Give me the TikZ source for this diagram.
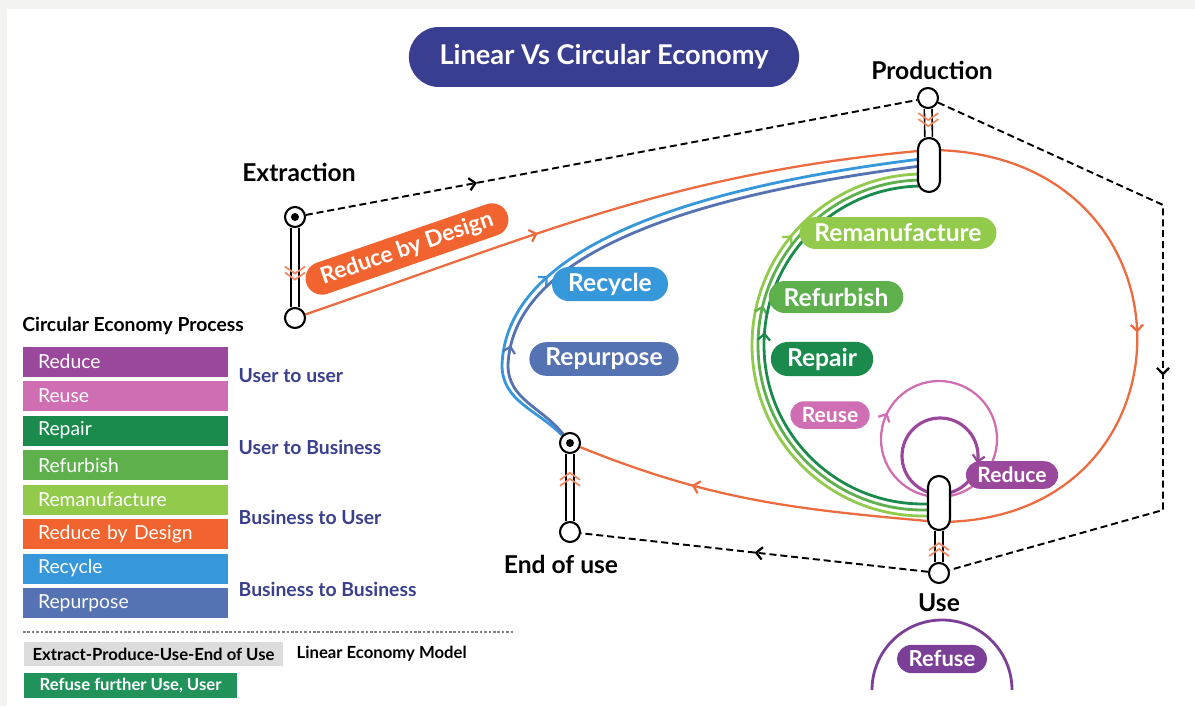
\documentclass[tikz,border=0pt]{standalone}
\usepackage{fontspec}
\setmainfont{Lato}
\usetikzlibrary{positioning,shapes.misc,arrows.meta,decorations.markings,backgrounds,calc}

\definecolor{frame}{HTML}{F3F3F1}
\definecolor{titleblue}{HTML}{3A3E91}
\definecolor{grouptext}{HTML}{3A3F8E}
\definecolor{reducec}{HTML}{9A489B}
\definecolor{reusec}{HTML}{CF6EB2}
\definecolor{repairc}{HTML}{1B8B4D}
\definecolor{refurbc}{HTML}{5DB04B}
\definecolor{remanc}{HTML}{92CA4B}
\definecolor{designc}{HTML}{F1642F}
\definecolor{recyclec}{HTML}{3797DB}
\definecolor{repurpc}{HTML}{5572B3}
\definecolor{refusec}{HTML}{7C3F98}
\definecolor{linegray}{HTML}{DCDCDC}
\definecolor{refuseuser}{HTML}{20925A}
\definecolor{flow}{HTML}{EC6B3F}

\newcommand\fsz[1]{\fontsize{#1}{#1}\selectfont}

\begin{document}
\begin{tikzpicture}[x=0.02cm,y=0.02cm,
    hub/.style={circle,draw,line width=1.2pt,fill=white,minimum size=0.4cm,inner sep=0pt},
    hub dot/.style={hub,path picture={\fill[black] (path picture bounding box.center) circle (0.08cm);}},
    capsule/.style={rectangle,draw,line width=1.2pt,fill=white,minimum width=0.44cm,minimum height=1.08cm,rounded corners=0.22cm,inner sep=0pt},
    stem/.style={draw=black,line width=0.9pt,double=white,double distance=0.12cm},
    place/.style={font=\bfseries\fsz{14},inner sep=0pt},
    pill/.style={rounded rectangle,fill=#1,text=white,font=\bfseries\fsz{14},minimum height=0.64cm,inner xsep=0.24cm},
    small pill/.style={pill=#1,font=\bfseries\fsz{12},minimum height=0.55cm,inner xsep=0.18cm},
    bar/.style={rectangle,fill=#1,text=white,font=\fsz{11},text width=3.5cm,align=left,inner xsep=0.3cm,minimum height=0.6cm},
    group/.style={font=\bfseries\fsz{11},text=grouptext,anchor=west,inner sep=0pt},
    linear/.style={draw=black,dash pattern=on 4pt off 2.2pt,line width=1.1pt},
    flowline/.style={draw=flow,line width=1.3pt},
    loopline/.style={line width=1.6pt},
    flowtip/.style={postaction={decorate,decoration={markings,mark=at position #1 with {\arrow{Straight Barb[length=3.5pt,width=7pt,line width=1.3pt]}}}}},
    backflowtip/.style={postaction={decorate,decoration={markings,mark=at position #1 with {\arrowreversed{Straight Barb[length=3.5pt,width=7pt,line width=1.3pt]}}}}},
    chevs/.pic={\draw[flow!80,line width=1pt] (-10,3)--(0,-4)--(10,3) (-10,9)--(0,2)--(10,9);}]

    \useasboundingbox (0,0) rectangle (1195,-706);
    \begin{pgfonlayer}{background}
        \fill[frame] (0,0) rectangle (1195,-706);
        \fill[white] (7,-9) rectangle (1195,-706);
    \end{pgfonlayer}

    \node[rounded rectangle,fill=titleblue,text=white,font=\bfseries\fsz{15.5},minimum width=8.04cm,minimum height=1.2cm] (title) at (604,-57) {Linear Vs Circular Economy};

    % stations
    \node[hub dot] (ext1) at (295,-217) {};
    \node[hub] (ext2) at (295,-318) {};
    \node[hub] (prod1) at (928,-98) {};
    \node[capsule] (prod2) at (929,-165) {};
    \node[capsule] (use1) at (939,-503) {};
    \node[hub] (use2) at (939,-573) {};
    \node[hub dot] (eou1) at (570,-443) {};
    \node[hub] (eou2) at (570,-532) {};

    \node[place] (extlab) [above=0.47cm of ext1,xshift=0.08cm] {Extraction};
    \node[place] (prodlab) [above=0.14cm of prod1,xshift=0.08cm] {Production};
    \node[place] (eoulab) [below=0.23cm of eou2,xshift=-0.18cm] {End of use};
    \node[place] (uselab) [below=0.18cm of use2] {Use};

    \draw[stem] (ext1) -- (ext2);
    \draw[stem] (prod1) -- (prod2);
    \draw[stem] (eou2) -- (eou1);
    \draw[stem] (use2) -- (use1);
    \pic at ($(ext1)!0.58!(ext2)$) {chevs};
    \pic at ($(prod1)!0.36!(prod2)$) {chevs};
    \pic[rotate=180] at ($(eou2)!0.62!(eou1)$) {chevs};
    \pic[rotate=180] at ($(use2)!0.37!(use1)$) {chevs};

    % pills
    \node[pill=designc,rotate=19,font=\bfseries\fsz{13}] (design) at (407,-249) {Reduce by Design};
    \node[pill=recyclec] (recycle) at (610,-284) {Recycle};
    \node[pill=repurpc] (repurp) at (604,-359) {Repurpose};
    \node[pill=remanc] (reman) at (898,-233) {Remanufacture};
    \node[pill=refurbc] (refurb) at (836,-297) {Refurbish};
    \node[pill=repairc] (repair) at (822,-359) {Repair};
    \node[small pill=reusec] (reuse) at (830,-415) {Reuse};
    \node[small pill=reducec] (reduce) at (1012,-475) {Reduce};
    \node[small pill=refusec,font=\bfseries\fsz{12.5}] (refuse) at (942,-659) {Refuse};

    \begin{pgfonlayer}{background}
        % linear economy
        \coordinate (ne) at (1163,-205);
        \coordinate (se) at (1163,-510);
        \draw[linear,flowtip=0.28] (ext1) -- (prod1);
        \draw[linear,flowtip=0.54] (prod1) -- (ne) -- (se) -- (use2);
        \draw[linear,flowtip=0.5] (use2) -- (eou2);

        % reduce by design loop
        \draw[flowline,flowtip=0.38] (ext2) to[out=19,in=185] ($(prod2)+(0,15)$);
        \draw[flowline,flowtip=0.5] ($(prod2)+(0,15)$) .. controls (1205,-150) and (1205,-522) .. ($(use1)+(0,-19)$);
        \draw[flowline,flowtip=0.68] ($(use1)+(0,-19)$) to[out=175,in=-22] (eou1);

        % business to business
        \coordinate (rc) at (502,-365);
        \coordinate (rp) at (508,-365);
        \draw[loopline,draw=recyclec,flowtip=0.33] (eou1) to[out=135,in=-90] (rc) .. controls (505,-290) and (580,-200) .. ($(prod2)+(0,7)$);
        \draw[loopline,draw=repurpc,flowtip=0.19] (eou1) to[out=128,in=-90] (rp) .. controls (511,-294) and (585,-207) .. ($(prod2)+(0,0)$);

        % business to user, user to business
        \draw[loopline,draw=remanc,backflowtip=0.27] ($(prod2)+(-6,-9)$) arc[start angle=90,end angle=270,radius=171] -- ($(use1)+(0,-13)$);
        \draw[loopline,draw=refurbc,backflowtip=0.41] ($(prod2)+(-6,-15)$) arc[start angle=90,end angle=270,radius=165] -- ($(use1)+(0,-7)$);
        \draw[loopline,draw=repairc,backflowtip=0.46] ($(prod2)+(-6,-21)$) arc[start angle=90,end angle=270,radius=159] -- ($(use1)+(0,-1)$);

        % user to user
        \draw[draw=reusec,line width=1.3pt,backflowtip=0.425] ($(use1)+(0,64)$) circle[radius=58];
        \draw[draw=reducec,line width=1.8pt,backflowtip=0.97] ($(use1)+(1,47)$) circle[radius=38];
    \end{pgfonlayer}

    \draw[draw=refusec,line width=1.6pt] ($(refuse)+(-70,-31)$) arc[start angle=180,end angle=0,radius=70];

    % legend
    \node[font=\bfseries\fsz{11},anchor=west,inner sep=0pt] (cep) at (22,-326) {Circular Economy Process};
    \foreach \txt/\col [count=\i] in {Reduce/reducec,Reuse/reusec,Repair/repairc,Refurbish/refurbc,Remanufacture/remanc,Reduce by Design/designc,Recycle/recyclec,Repurpose/repurpc}
        \node[bar=\col] (bar\i) at (125.5,{-361.5-34.5*(\i-1)}) {\txt};

    \node[group] at ($(bar1.east)!0.5!(bar2.east)+(10,3)$) {User to user};
    \node[group] at ($(bar3.east)!0.5!(bar4.east)+(10,0)$) {User to Business};
    \node[group] at ($(bar5.east)!0.5!(bar6.east)+(10,-1)$) {Business to User};
    \node[group] at ($(bar7.east)!0.5!(bar8.east)+(10,-4)$) {Business to Business};

    \draw[gray,line width=0.6pt,dash pattern=on 1.5pt off 1pt] (23,-632) -- (513,-632);
    \node[fill=linegray,font=\bfseries\fsz{9.5},minimum width=5.18cm,minimum height=0.48cm,inner sep=0pt] (linear box) at (153.5,-654) {Extract-Produce-Use-End of Use};
    \node[font=\bfseries\fsz{9.5},inner sep=0pt,right=0.26cm of linear box] (linear lab) {Linear Economy Model};
    \node[fill=refuseuser,text=white,font=\bfseries\fsz{9.5},minimum width=4.26cm,minimum height=0.5cm,inner sep=0pt] (refuse box) at (130.5,-685.5) {Refuse further Use, User};
\end{tikzpicture}
\end{document}
